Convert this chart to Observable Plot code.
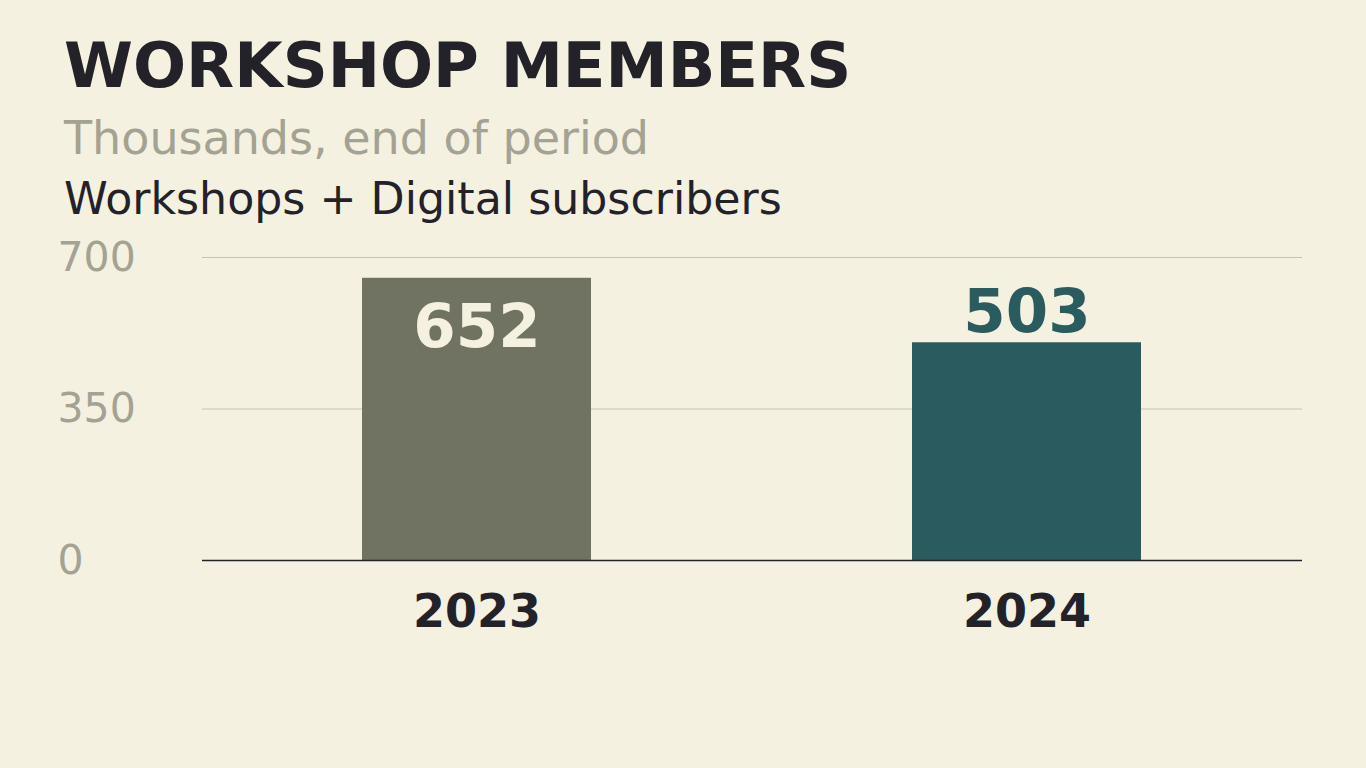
<!DOCTYPE html>
<html>
<head>
<meta charset="utf-8">
<script src="https://cdn.jsdelivr.net/npm/d3@7"></script>
<script src="https://cdn.jsdelivr.net/npm/@observablehq/plot@0.6"></script>
<style>
  html, body { margin: 0; padding: 0; background: #f4f1e1; overflow: hidden; }
  body { width: 1366px; height: 768px; font-family: "DejaVu Sans", sans-serif; }
  #header { position: relative; height: 230px; }
  #header div { position: absolute; left: 64px; line-height: 1; white-space: nowrap; }
  #title { top: 35.1px; font-size: 62.5px; font-weight: bold; color: #222228; }
  #subtitle { top: 114.6px; font-size: 46px; color: #a3a293; }
  #series { top: 176.6px; font-size: 44.25px; color: #222228; }
  #chart svg { display: block; }
</style>
</head>
<body>
<div id="header">
  <div id="title">WORKSHOP MEMBERS</div>
  <div id="subtitle">Thousands, end of period</div>
  <div id="series">Workshops + Digital subscribers</div>
</div>
<div id="chart"></div>
<script>
// ---- data ----
const years = ["2023", "2024"];
const members = [652, 503];
const yTicks = [0, 350, 700];

// ---- styles ----
const barColors = ["#707262", "#2a5b5f"];
const labelColors = ["#f4f1e1", "#2a5b5f"];
const labelInside = [true, false];

const data = years.map((y, i) => ({year: y, value: members[i], i}));

const chart = Plot.plot({
  width: 1366,
  height: 538,
  marginTop: 27,
  marginBottom: 208,
  marginLeft: 202,
  marginRight: 64,
  style: {background: "transparent", fontFamily: "DejaVu Sans, sans-serif"},
  x: {domain: years, paddingInner: 0.5836, paddingOuter: 0.2918, label: null},
  y: {domain: [0, 700], label: null, axis: null},
  marks: [
    Plot.ruleY(yTicks.filter(d => d > 0), {stroke: "#c6c3b2", strokeWidth: 1}),
    Plot.barY(data, {x: "year", y: "value", fill: d => barColors[d.i]}),
    Plot.ruleY([0], {stroke: "#222228", strokeWidth: 1.3}),
    Plot.text(yTicks, {
      y: d => d, text: d => String(d), frameAnchor: "left", dx: -145,
      textAnchor: "start", lineAnchor: "middle", fontSize: 41, fill: "#a3a293"
    }),
    Plot.axisX({tickSize: 0, tickPadding: 34.3, fontSize: 46, fontWeight: "bold", fill: "#222228", label: null}),
    Plot.text(data.filter(d => labelInside[d.i]), {
      x: "year", y: "value", text: d => String(d.value), dy: 49.5,
      lineAnchor: "middle", fontSize: 61, fontWeight: "bold", fill: d => labelColors[d.i]
    }),
    Plot.text(data.filter(d => !labelInside[d.i]), {
      x: "year", y: "value", text: d => String(d.value), dy: -30.8,
      lineAnchor: "middle", fontSize: 61, fontWeight: "bold", fill: d => labelColors[d.i]
    })
  ]
});
document.getElementById("chart").appendChild(chart);
</script>
</body>
</html>
